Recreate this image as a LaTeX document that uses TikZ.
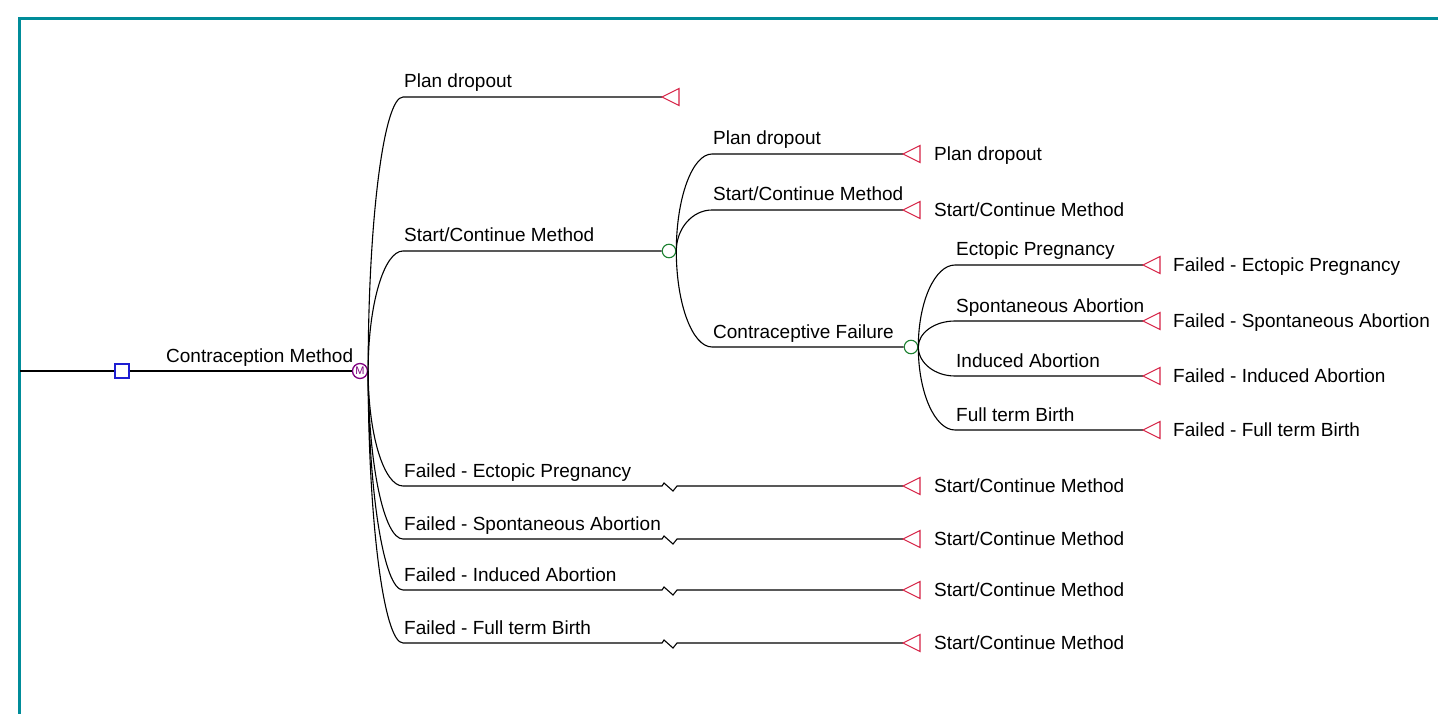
\documentclass[tikz,border=0pt]{standalone}
\usepackage{fontspec}
\setmainfont{Liberation Sans}
\usetikzlibrary{calc}
\definecolor{frameteal}{RGB}{0,140,153}
\definecolor{termred}{RGB}{215,35,70}
\definecolor{chancegreen}{RGB}{30,130,50}
\definecolor{decblue}{RGB}{30,30,210}
\definecolor{markpurple}{RGB}{128,0,128}
\begin{document}
\begin{tikzpicture}[x=1pt,y=-1pt,
  edge/.style={line width=1.1pt,black},
  branch/.style={to path={.. controls ($(\tikztostart)!0.55!(\tikztostart|-\tikztotarget)$) and ($(\tikztotarget)!0.55!(\tikztostart|-\tikztotarget)$) .. (\tikztotarget)}},
  lbl/.style={anchor=base west,inner sep=0pt,font=\fontsize{19}{21}\selectfont},
  termtri/.style={draw=termred,line width=1.1pt},
  chance/.style={circle,draw=chancegreen,line width=1.1pt,minimum size=13.5pt,inner sep=0pt,fill=white},
  decision/.style={rectangle,draw=decblue,line width=1.2pt,minimum size=14pt,inner sep=0pt,fill=white},
  markov/.style={circle,draw=markpurple,line width=1.3pt,minimum size=15pt,inner sep=0pt,text=markpurple,font=\fontsize{11}{11}\selectfont},
  frameline/.style={draw=frameteal,line width=3pt}
]
\useasboundingbox (0,0) rectangle (1438,714);
\fill[white] (0,0) rectangle (1438,714);
\draw[frameline] (19,714) -- (19,19) -- (1438,19);

% root
\coordinate (r0) at (20,371);
\node[decision] (d) at (122,371) {};
\node[markov] (m) at (360,371) {M};
\draw[edge] (r0) -- (d.west);
\draw[edge] (d.east) -- (m.west);
\node[lbl] (lroot) at (166,362) {Contraception Method};

% Markov branches
\coordinate (p1) at (403,97);  \coordinate (t1) at (662,97);
\coordinate (p2) at (403,251);
\node[chance] (c1) at (669,251) {};
\coordinate (p3) at (403,486); \coordinate (z3) at (662,486); \coordinate (t3) at (903,486);
\coordinate (p4) at (403,539); \coordinate (z4) at (662,539); \coordinate (t4) at (903,539);
\coordinate (p5) at (403,590); \coordinate (z5) at (662,590); \coordinate (t5) at (903,590);
\coordinate (p6) at (403,643); \coordinate (z6) at (662,643); \coordinate (t6) at (903,643);

\draw[edge] (m.east) to[branch] (p1) -- (t1);
\draw[edge] (m.east) to[branch] (p2) -- (c1.west);
\foreach \i in {3,4,5,6}{
  \draw[edge] (m.east) to[branch] (p\i) -- (z\i) -- ++(2,-3) -- ++(9,8) -- ++(4,-5) -- (t\i);
}
\node[lbl] (l1) at (404,88) {Plan dropout};
\node[lbl] (l2) at (404,242) {Start/Continue Method};
\node[lbl] (l3) at (404,477) {Failed - Ectopic Pregnancy};
\node[lbl] (l4) at (404,530) {Failed - Spontaneous Abortion};
\node[lbl] (l5) at (404,581) {Failed - Induced Abortion};
\node[lbl] (l6) at (404,634) {Failed - Full term Birth};

% chance node 1 branches
\coordinate (qa) at (712,154); \coordinate (ta) at (903,154);
\coordinate (qb) at (712,210); \coordinate (tb) at (903,210);
\coordinate (qc) at (712,347);
\node[chance] (c2) at (911,347) {};
\draw[edge] (c1.east) to[branch] (qa) -- (ta);
\draw[edge] (c1.east) to[branch] (qb) -- (tb);
\draw[edge] (c1.east) to[branch] (qc) -- (c2.west);
\node[lbl] (la) at (713,145) {Plan dropout};
\node[lbl] (lb) at (713,201) {Start/Continue Method};
\node[lbl] (lc) at (713,338) {Contraceptive Failure};

% chance node 2 branches
\coordinate (si) at (955,265); \coordinate (ti) at (1143,265);
\coordinate (sii) at (955,321); \coordinate (tii) at (1143,321);
\coordinate (siii) at (955,376); \coordinate (tiii) at (1143,376);
\coordinate (siv) at (955,430); \coordinate (tiv) at (1143,430);
\foreach \k in {i,ii,iii,iv}{
  \draw[edge] (c2.east) to[branch] (s\k) -- (t\k);
}
\node[lbl] (li) at (956,256) {Ectopic Pregnancy};
\node[lbl] (lii) at (956,312) {Spontaneous Abortion};
\node[lbl] (liii) at (956,367) {Induced Abortion};
\node[lbl] (liv) at (956,421) {Full term Birth};

% terminal triangles
\foreach \t in {t1,t3,t4,t5,t6,ta,tb,ti,tii,tiii,tiv}{
  \draw[termtri] (\t) -- ++(17,-8.5) -- ++(0,17) -- cycle;
}

% terminal labels
\node[lbl] (e3) at (934,492.5) {Start/Continue Method};
\node[lbl] (e4) at (934,545.5) {Start/Continue Method};
\node[lbl] (e5) at (934,596.5) {Start/Continue Method};
\node[lbl] (e6) at (934,649.5) {Start/Continue Method};
\node[lbl] (ea) at (934,160.5) {Plan dropout};
\node[lbl] (eb) at (934,216.5) {Start/Continue Method};
\node[lbl] (ei) at (1173,271.5) {Failed - Ectopic Pregnancy};
\node[lbl] (eii) at (1173,327.5) {Failed - Spontaneous Abortion};
\node[lbl] (eiii) at (1173,382.5) {Failed - Induced Abortion};
\node[lbl] (eiv) at (1173,436.5) {Failed - Full term Birth};
\end{tikzpicture}
\end{document}
